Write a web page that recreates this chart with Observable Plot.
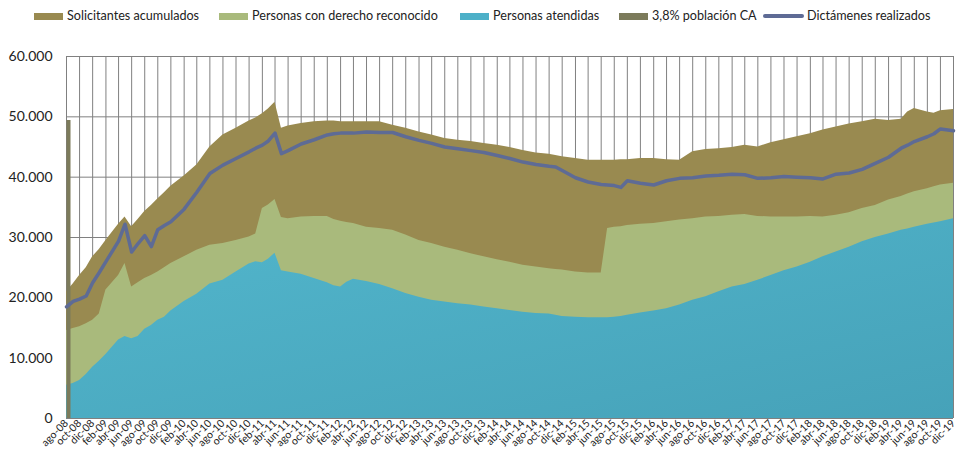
<!DOCTYPE html>
<html><head><meta charset="utf-8">
<script src="https://cdn.jsdelivr.net/npm/d3@7"></script>
<script src="https://cdn.jsdelivr.net/npm/@observablehq/plot@0.6"></script>
<style>
body{margin:0;background:#fff;font-family:Lato,"Open Sans",sans-serif;}
#legend{position:relative;width:956px;height:32px;font-size:12.6px;color:#222;}
.item{position:absolute;top:8px;display:flex;align-items:center;white-space:nowrap;line-height:16px;}
.sw{width:29px;height:7px;margin-right:4px;}
.ln{width:41px;height:4px;margin-right:3px;border-radius:2px;}
</style></head><body>
<div id="legend"></div>
<div id="chart"></div>
<script>
// ---- data ----
const meses = ["ago-08","sep-08","oct-08","nov-08","dic-08","ene-09","feb-09","abr-09","may-09","jun-09","jul-09","ago-09","sep-09","oct-09","nov-09","dic-09","feb-10","abr-10","jun-10","ago-10","oct-10","dic-10","ene-11","feb-11","mar-11","abr-11","may-11","jun-11","ago-11","oct-11","dic-11","ene-12","feb-12","mar-12","abr-12","jun-12","ago-12","oct-12","dic-12","feb-13","abr-13","jun-13","ago-13","oct-13","dic-13","feb-14","abr-14","jun-14","ago-14","oct-14","nov-14","dic-14","feb-15","abr-15","jun-15","jul-15","ago-15","sep-15","oct-15","dic-15","feb-16","abr-16","jun-16","ago-16","oct-16","dic-16","feb-17","abr-17","jun-17","ago-17","oct-17","dic-17","feb-18","abr-18","jun-18","ago-18","oct-18","dic-18","feb-19","abr-19","may-19","jun-19","ago-19","sep-19","oct-19","dic-19"];

const solicitantes = [21000,22300,23700,25000,26800,28000,29500,32200,33400,31800,33000,34300,35300,36400,37400,38500,40200,42000,45000,47000,48100,49300,49800,50500,51300,52400,48100,48500,48900,49200,49300,49300,49200,49200,49200,49200,49200,48600,48100,47500,47000,46400,46100,45900,45600,45300,44900,44400,44000,43800,43600,43400,43100,42800,42800,42800,42800,42900,42900,43100,43100,42900,42800,44200,44600,44700,44900,45300,45000,45700,46200,46700,47200,47800,48300,48800,49200,49600,49400,49600,50800,51400,50800,50600,51000,51200];

const derecho = [14600,14900,15200,15700,16300,17300,21300,23700,25700,21800,22500,23200,23700,24300,25000,25700,26800,27900,28700,29000,29500,30100,30600,34800,35400,36300,33300,33100,33400,33500,33500,33000,32700,32500,32300,31700,31500,31200,30400,29500,29000,28400,27900,27300,26800,26300,25900,25400,25100,24800,24700,24600,24300,24100,24100,31500,31700,31800,32000,32200,32300,32600,32900,33100,33400,33500,33700,33800,33500,33400,33400,33400,33500,33400,33700,34100,34800,35300,36200,36800,37200,37600,38100,38400,38700,39000];

const atendidas = [5500,5800,6300,7300,8500,9500,10600,13000,13600,13200,13600,14800,15400,16300,16800,17800,19400,20600,22300,22900,24300,25600,26000,25800,26400,27400,24500,24300,23900,23200,22500,22000,21800,22600,23100,22700,22200,21500,20700,20100,19600,19300,19000,18800,18500,18200,17900,17600,17400,17300,17100,16900,16800,16700,16700,16700,16800,16900,17100,17500,17800,18200,18800,19600,20200,21000,21800,22200,22900,23700,24500,25100,25900,26800,27600,28400,29300,30000,30600,31200,31400,31700,32200,32400,32600,33100];

const dictamenes = [18500,19400,19800,20300,22500,24200,26000,29400,32200,27600,29000,30300,28500,31300,32000,32600,34700,37500,40600,42000,43100,44200,44800,45300,46000,47300,43900,44400,45500,46200,47000,47200,47300,47300,47300,47500,47400,47400,46700,46100,45600,45000,44700,44400,44100,43600,43100,42500,42100,41800,41700,41100,39900,39200,38800,38700,38600,38300,39400,39000,38700,39400,39800,39900,40200,40300,40500,40400,39800,39900,40100,40000,39900,39700,40500,40700,41300,42300,43300,44800,45300,45900,46700,47200,48000,47700];

const poblacionMes = ["ago-08"];
const poblacion38 = [49400];

const series = ["Solicitantes acumulados","Personas con derecho reconocido","Personas atendidas","3,8% población CA","Dictámenes realizados"];
const colores = ["#998a50","#a9ba7c","#4db0c8","#7c7b5b","#5e6b95"];
const mesesAbrev = ["ene","feb","mar","abr","may","jun","jul","ago","sep","oct","nov","dic"];
const yTicks = [0,10000,20000,30000,40000,50000,60000];

// ---- build ----
const parseMes = s => { const [m,a] = s.split("-"); return new Date(Date.UTC(2000 + +a, mesesAbrev.indexOf(m), 1)); };
const rows = meses.map((m,i) => ({fecha: parseMes(m), sol: solicitantes[i], der: derecho[i], ate: atendidas[i], dic: dictamenes[i]}));
const pobRows = poblacionMes.map((m,i) => ({fecha: parseMes(m), v: poblacion38[i]}));
const x0 = rows[0].fecha, x1 = rows[rows.length-1].fecha;
const tickDates = d3.utcMonth.range(x0, new Date(+x1 + 86400000), 2);
const fmtMes = d => mesesAbrev[d.getUTCMonth()] + "-" + String(d.getUTCFullYear() % 100).padStart(2,"0");
const fmtNum = d3.formatLocale({decimal: ",", thousands: ".", grouping: [3], currency: ["", " €"]}).format(",.0f");

// legend
const legend = document.getElementById("legend");
const lefts = [34, 219, 460, 619, 763];
series.forEach((s,i) => {
  const it = document.createElement("div");
  it.className = "item"; it.style.left = lefts[i] + "px";
  const sw = document.createElement("span");
  sw.className = i === 4 ? "ln" : "sw"; sw.style.background = colores[i];
  const t = document.createElement("span"); t.textContent = s;
  it.append(sw, t); legend.append(it);
});

// subtle gradient for the "Personas atendidas" area
const gradDefs = () => {
  const ns = "http://www.w3.org/2000/svg";
  const defs = document.createElementNS(ns, "defs");
  const g = document.createElementNS(ns, "linearGradient");
  g.setAttribute("id", "gradAte");
  g.setAttribute("x1", "0"); g.setAttribute("y1", "0");
  g.setAttribute("x2", "1"); g.setAttribute("y2", "1");
  [["0%", "#52b6cc"], ["100%", "#46a2b9"]].forEach(([o, c]) => {
    const st = document.createElementNS(ns, "stop");
    st.setAttribute("offset", o); st.setAttribute("stop-color", c);
    g.append(st);
  });
  defs.append(g);
  return defs;
};

const chart = Plot.plot({
  width: 956, height: 429,
  marginTop: 24, marginBottom: 43, marginLeft: 66, marginRight: 3,
  style: {fontFamily: "Lato, 'Open Sans', sans-serif", background: "#fff", color: "#222"},
  x: {type: "utc", domain: [x0, x1]},
  y: {domain: [0, 60000]},
  marks: [
    gradDefs,
    Plot.gridX(tickDates, {stroke: "#808080", strokeOpacity: 1}),
    Plot.gridY(yTicks, {stroke: "#808080", strokeOpacity: 1}),
    Plot.areaY(rows, {x: "fecha", y1: 0, y2: "sol", fill: colores[0]}),
    Plot.areaY(rows, {x: "fecha", y1: 0, y2: "der", fill: colores[1]}),
    Plot.areaY(rows, {x: "fecha", y1: 0, y2: "ate", fill: "url(#gradAte)"}),
    Plot.ruleX(pobRows, {x: "fecha", y1: 0, y2: "v", stroke: colores[3], strokeWidth: 4, dx: 2}),
    Plot.lineY(rows, {x: "fecha", y: "dic", stroke: colores[4], strokeWidth: 3.5, strokeLinejoin: "round"}),
    Plot.ruleY([0], {stroke: "#808080"}),
    Plot.axisY(yTicks, {tickSize: 0, tickPadding: 14, tickFormat: fmtNum, fontSize: 14, label: null}),
    Plot.axisX(tickDates, {tickSize: 0, tickPadding: 3, tickRotate: -45, tickFormat: fmtMes, fontSize: 10.5, label: null})
  ]
});
document.getElementById("chart").append(chart);
</script>
</body></html>
